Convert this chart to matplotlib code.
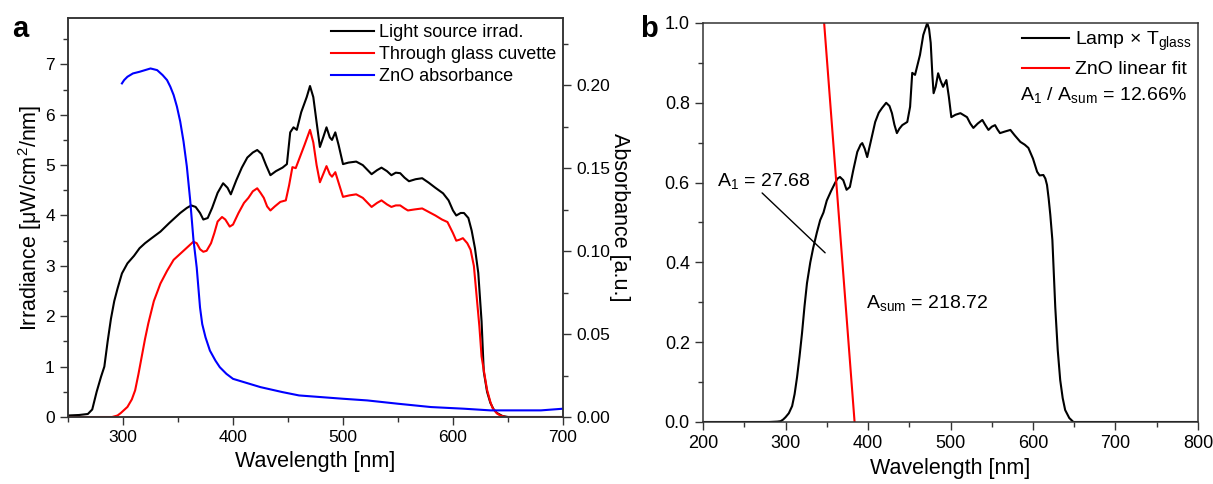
import matplotlib
matplotlib.use("Agg")
import matplotlib.pyplot as plt
from matplotlib.ticker import MultipleLocator, FormatStrFormatter

plt.rcParams["font.family"] = ["Liberation Sans", "DejaVu Sans"]
plt.rcParams["mathtext.fontset"] = "custom"
plt.rcParams["mathtext.rm"] = "Liberation Sans"
plt.rcParams["mathtext.it"] = "Liberation Sans:italic"
plt.rcParams["mathtext.bf"] = "Liberation Sans:bold"

# ---- panel a: lamp irradiance, through glass, ZnO absorbance ----
lamp_wl = [250, 260, 268, 272, 276, 280, 283, 286, 289, 292, 295, 299, 304, 310, 315, 320,
           326, 334, 342, 352, 358, 362, 366, 370, 373, 377, 381, 386, 391, 395, 398, 403,
           408, 413, 418, 422, 426, 430, 434, 439, 445, 449, 452, 455, 458, 462, 467, 470,
           473, 476, 479, 482, 485, 488, 490, 493, 496, 500, 505, 512, 518, 526, 531, 535,
           540, 544, 548, 552, 556, 560, 566, 572, 578, 584, 591, 596, 600, 603, 607, 610,
           614, 617, 620, 623, 626, 628, 631, 634, 637, 640, 645, 650, 700]
lamp_irr = [0.03, 0.04, 0.06, 0.15, 0.50, 0.80, 1.00, 1.50, 1.95, 2.30, 2.55, 2.85, 3.05, 3.20, 3.35, 3.45,
            3.55, 3.68, 3.85, 4.05, 4.15, 4.20, 4.17, 4.05, 3.92, 3.95, 4.15, 4.45, 4.64, 4.55, 4.42, 4.70,
            4.95, 5.15, 5.25, 5.30, 5.22, 5.00, 4.80, 4.88, 4.95, 5.02, 5.65, 5.75, 5.70, 6.05, 6.35, 6.57,
            6.35, 5.85, 5.36, 5.55, 5.75, 5.55, 5.50, 5.65, 5.40, 5.02, 5.05, 5.07, 5.00, 4.82, 4.90, 4.95,
            4.88, 4.80, 4.85, 4.84, 4.75, 4.68, 4.72, 4.74, 4.65, 4.55, 4.44, 4.30, 4.10, 4.00, 4.05, 4.05,
            3.95, 3.70, 3.35, 2.86, 1.90, 0.90, 0.50, 0.28, 0.15, 0.08, 0.02, 0.00, 0.00]

glass_wl = [250, 290, 295, 298, 304, 308, 311, 314, 317, 320, 323, 328, 334, 340, 346, 351,
            355, 360, 364, 367, 370, 373, 376, 380, 383, 386, 390, 393, 397, 400, 405, 410,
            414, 418, 422, 425, 428, 431, 434, 438, 443, 448, 451, 454, 457, 461, 465, 470,
            473, 476, 479, 482, 485, 488, 490, 493, 496, 500, 506, 512, 518, 526, 531, 535,
            540, 544, 548, 552, 556, 559, 565, 572, 578, 584, 590, 595, 600, 603, 606, 609,
            613, 616, 619, 621, 624, 626, 629, 631, 634, 636, 640, 643, 648, 700]
glass_irr = [0.00, 0.00, 0.03, 0.08, 0.20, 0.35, 0.53, 0.85, 1.20, 1.55, 1.86, 2.30, 2.65, 2.90, 3.12, 3.22,
             3.30, 3.40, 3.48, 3.45, 3.33, 3.28, 3.30, 3.45, 3.65, 3.88, 3.97, 3.92, 3.78, 3.82, 4.05, 4.25,
             4.35, 4.48, 4.54, 4.45, 4.35, 4.18, 4.10, 4.18, 4.27, 4.30, 4.60, 4.96, 4.94, 5.17, 5.40, 5.70,
             5.45, 5.00, 4.66, 4.82, 4.98, 4.82, 4.77, 4.86, 4.65, 4.37, 4.40, 4.42, 4.35, 4.17, 4.25, 4.30,
             4.22, 4.17, 4.20, 4.20, 4.14, 4.10, 4.12, 4.14, 4.07, 4.00, 3.92, 3.87, 3.65, 3.50, 3.52, 3.55,
             3.45, 3.32, 3.00, 2.52, 1.80, 1.20, 0.80, 0.54, 0.30, 0.18, 0.07, 0.03, 0.00, 0.00]

zno_wl = [299, 301, 304, 309, 315, 320, 325, 331, 336, 340, 343, 346, 349, 352, 355, 358,
          361, 364, 367, 370, 372, 375, 379, 384, 388, 394, 400, 410, 425, 445, 460, 480,
          500, 522, 550, 580, 610, 634, 660, 680, 700]
zno_abs = [0.201, 0.203, 0.205, 0.207, 0.208, 0.209, 0.210, 0.209, 0.206, 0.203, 0.199, 0.194, 0.187, 0.178, 0.166, 0.151,
           0.131, 0.107, 0.090, 0.066, 0.056, 0.048, 0.040, 0.034, 0.030, 0.026, 0.023, 0.021, 0.018, 0.015, 0.013, 0.012,
           0.011, 0.010, 0.008, 0.006, 0.005, 0.004, 0.004, 0.004, 0.005]

# ---- panel b: normalised lamp x glass transmission, ZnO linear fit ----
norm_wl = [200, 280, 290, 294, 297, 300, 304, 308, 311, 314, 317, 320, 323, 326, 330, 333.5,
           338, 342, 346, 350, 355, 360, 363, 366, 370, 374, 378, 382, 387, 391, 393, 396,
           399, 403, 408.7, 413, 417, 422, 426, 429, 432, 435, 438, 441.5, 447.6, 451, 453.6, 457,
           460, 463, 467, 471.8, 474, 476, 478, 479.5, 482, 485, 488, 491, 495, 498, 501, 506,
           512, 520, 524, 527.7, 533, 538.6, 542, 546, 550, 554, 557, 560, 566, 572.6, 578, 584.7,
           590, 594.4, 600, 605, 608, 612.6, 615, 617, 619, 621, 623.5, 627, 630, 633, 636, 639,
           644, 649, 800]
norm_val = [0.0, 0.0, 0.001, 0.002, 0.006, 0.012, 0.022, 0.040, 0.070, 0.113, 0.165, 0.223, 0.290, 0.348, 0.400, 0.436,
            0.475, 0.506, 0.525, 0.555, 0.578, 0.599, 0.610, 0.614, 0.606, 0.582, 0.589, 0.630, 0.677, 0.695, 0.699, 0.685,
            0.664, 0.700, 0.752, 0.775, 0.787, 0.800, 0.792, 0.774, 0.745, 0.724, 0.735, 0.744, 0.752, 0.790, 0.875, 0.870,
            0.895, 0.920, 0.970, 1.000, 0.985, 0.950, 0.870, 0.824, 0.840, 0.874, 0.855, 0.840, 0.857, 0.815, 0.764, 0.770,
            0.774, 0.764, 0.748, 0.737, 0.748, 0.757, 0.745, 0.732, 0.740, 0.744, 0.733, 0.724, 0.728, 0.732, 0.718, 0.702,
            0.695, 0.687, 0.660, 0.627, 0.618, 0.619, 0.610, 0.594, 0.560, 0.519, 0.456, 0.288, 0.180, 0.105, 0.060, 0.030,
            0.010, 0.0, 0.0]

fit_wl = [346.8, 383.7]
fit_val = [1.0, 0.0]

A1_value = 27.68
Asum_value = 218.72
ratio_pct = 12.66

SPINE = "#333333"
TICK_FS = 12.5
LABEL_FS = 15.5


def style_axis(ax, labelsize=TICK_FS):
    for s in ax.spines.values():
        s.set_color(SPINE)
        s.set_linewidth(1.1)
    ax.tick_params(which="both", direction="out", color=SPINE, width=1.0, labelsize=labelsize)
    ax.tick_params(which="major", length=6)
    ax.tick_params(which="minor", length=3.5)


fig = plt.figure(figsize=(12.13, 4.84), dpi=100)

# panel a
ax_a = fig.add_axes([0.0561, 0.1384, 0.408, 0.8244])
ax_a.plot(lamp_wl, lamp_irr, color="black", lw=1.5, label="Light source irrad.")
ax_a.plot(glass_wl, glass_irr, color="#ff0000", lw=1.5, label="Through glass cuvette")
ax_a.set_xlim(250, 700)
ax_a.set_ylim(0, 7.92)
ax_a.xaxis.set_major_locator(MultipleLocator(100))
ax_a.xaxis.set_minor_locator(MultipleLocator(50))
ax_a.yaxis.set_major_locator(MultipleLocator(1))
ax_a.yaxis.set_minor_locator(MultipleLocator(0.5))
ax_a.set_xlabel("Wavelength [nm]", fontsize=LABEL_FS)
ax_a.set_ylabel("Irradiance [μW/cm$^2$/nm]", fontsize=LABEL_FS, labelpad=1)
style_axis(ax_a)

ax_r = ax_a.twinx()
ax_r.plot(zno_wl, zno_abs, color="#0000ff", lw=1.5, label="ZnO absorbance")
ax_r.set_ylim(0, 0.2404)
ax_r.yaxis.set_major_locator(MultipleLocator(0.05))
ax_r.yaxis.set_minor_locator(MultipleLocator(0.025))
ax_r.yaxis.set_major_formatter(FormatStrFormatter("%.2f"))
ax_r.set_ylabel("Absorbance [a.u.]", fontsize=LABEL_FS, rotation=270, labelpad=14)
style_axis(ax_r)

h1, l1 = ax_a.get_legend_handles_labels()
h2, l2 = ax_r.get_legend_handles_labels()
ax_r.legend(h1 + h2, l1 + l2, loc="upper right", frameon=False, fontsize=13,
            handlelength=2.4, handletextpad=0.3, labelspacing=0.28,
            borderpad=0.15, borderaxespad=0.2)

# panel b
ax_b = fig.add_axes([0.5796, 0.1281, 0.408, 0.8244])
ax_b.plot(norm_wl, norm_val, color="black", lw=1.5, label="Lamp × T$_{\\mathrm{glass}}$")
ax_b.plot(fit_wl, fit_val, color="#ff0000", lw=1.5, label="ZnO linear fit")
ax_b.set_xlim(200, 800)
ax_b.set_ylim(0, 1.0)
ax_b.xaxis.set_major_locator(MultipleLocator(100))
ax_b.xaxis.set_minor_locator(MultipleLocator(50))
ax_b.yaxis.set_major_locator(MultipleLocator(0.2))
ax_b.yaxis.set_minor_locator(MultipleLocator(0.1))
ax_b.yaxis.set_major_formatter(FormatStrFormatter("%.1f"))
ax_b.set_xlabel("Wavelength [nm]", fontsize=LABEL_FS)
style_axis(ax_b, labelsize=13)
ax_b.legend(loc="upper right", frameon=False, fontsize=14,
            handlelength=2.4, handletextpad=0.3, labelspacing=0.4,
            borderpad=0.15, borderaxespad=0.2)
ax_b.text(0.640, 0.8195, f"A$_1$ / A$_{{\\mathrm{{sum}}}}$ = {ratio_pct:.2f}%",
          transform=ax_b.transAxes, fontsize=14, ha="left", va="center")

ax_b.text(217, 0.604, f"A$_1$ = {A1_value:.2f}", fontsize=14, ha="left", va="center")
ax_b.annotate("", xy=(348, 0.424), xytext=(271.6, 0.574),
              arrowprops=dict(arrowstyle="-", color="black", lw=1.0, shrinkA=0, shrinkB=0))
ax_b.text(397.8, 0.298, f"A$_{{\\mathrm{{sum}}}}$ = {Asum_value:.2f}", fontsize=14, ha="left", va="center")

fig.text(0.0099, 0.924, "a", fontsize=21, fontweight="bold", va="baseline")
fig.text(0.5276, 0.924, "b", fontsize=21, fontweight="bold", va="baseline")

fig.savefig("out.png", dpi=100)
